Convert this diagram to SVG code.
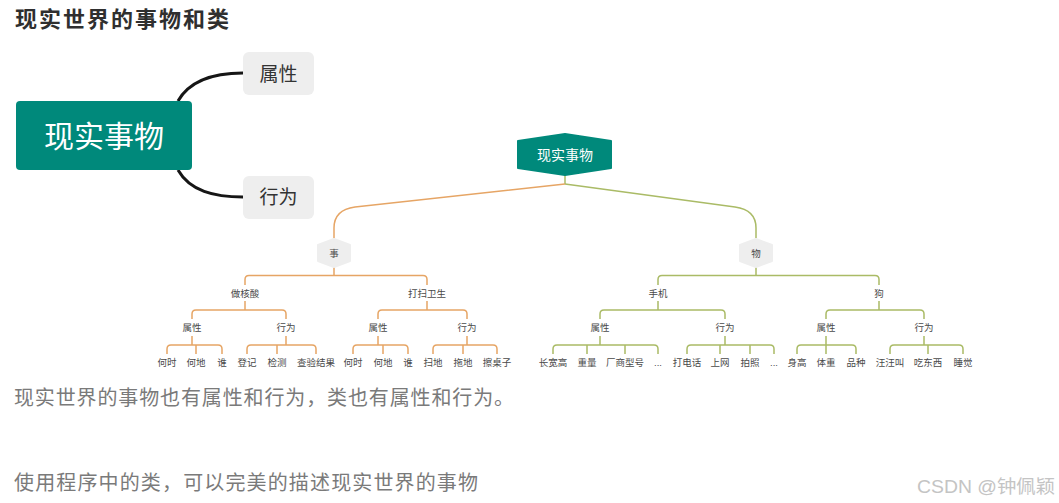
<svg xmlns="http://www.w3.org/2000/svg" width="1059" height="503" viewBox="0 0 1059 503">
<style>
.cjk{font-family:"Liberation Sans","Noto Sans CJK SC",sans-serif}
.serif{font-family:"Liberation Serif","Noto Sans CJK SC",serif}
.title{font-size:22px;font-weight:bold;fill:#2f2f2f}
.body{font-size:20px;fill:#7a7a7a}
.wm{font-size:18px;fill:#c4c4c4}
.sm{font-size:9.5px;fill:#4a4a4a;text-anchor:middle;dominant-baseline:central}
.big{fill:#fff;text-anchor:middle;dominant-baseline:central}
.gray{fill:#eeeeee}
.teal{fill:#00897b}
.or{fill:none;stroke:#e6a565;stroke-width:1.5}
.gr{fill:none;stroke:#aabb66;stroke-width:1.5}
.blk{fill:none;stroke:#161616;stroke-width:3}
</style>
<rect width="1059" height="503" fill="#fff"/>
<text class="serif title" x="15" y="27" textLength="214" lengthAdjust="spacing">现实世界的事物和类</text>

<g id="connectors">
  <path class="blk" d="M178,101 C190,80 214,73 243,73"/>
  <path class="blk" d="M178,170 C190,191 214,197 243,197"/>
  <path class="gr" d="M565,175V184"/>
  <path class="or" d="M565,184 L355,207 C340,209 334,216 334,228 V238"/>
  <path class="gr" d="M565,184 L735,207 C750,209 756,216 756,228 V238"/>
  <path class="or" d="M334,267V275.5 M245,285V279.5Q245,275.5 249,275.5H423Q427,275.5 427,279.5V285"/>
  <path class="gr" d="M756,267V275.5 M658,285V279.5Q658,275.5 662,275.5H875Q879,275.5 879,279.5V285"/>
  <path class="or" d="M245,301V310 M192,319V314Q192,310 196,310H282Q286,310 286,314V319"/>
  <path class="or" d="M427,301V310 M378,319V314Q378,310 382,310H463Q467,310 467,314V319"/>
  <path class="gr" d="M658,301V310 M600,319V314Q600,310 604,310H721Q725,310 725,314V319"/>
  <path class="gr" d="M879,301V310 M826,319V314Q826,310 830,310H920Q924,310 924,314V319"/>
  <path class="or" d="M192,336V345 M167,354V349Q167,345 171,345H218Q222,345 222,349V354 M196,345V354"/>
  <path class="or" d="M286,336V345 M247,354V349Q247,345 251,345H312Q316,345 316,349V354 M277,345V354"/>
  <path class="or" d="M378,336V345 M353,354V349Q353,345 357,345H404Q408,345 408,349V354 M383,345V354"/>
  <path class="or" d="M467,336V345 M433,354V349Q433,345 437,345H493Q497,345 497,349V354 M463,345V354"/>
  <path class="gr" d="M600,336V345 M553,354V349Q553,345 557,345H654Q658,345 658,349V354 M587,345V354 M625,345V354"/>
  <path class="gr" d="M725,336V345 M687,354V349Q687,345 691,345H770Q774,345 774,349V354 M720,345V354 M750,345V354"/>
  <path class="gr" d="M826,336V345 M797,354V349Q797,345 801,345H852Q856,345 856,349V354 M826,345V354"/>
  <path class="gr" d="M924,336V345 M890,354V349Q890,345 894,345H959Q963,345 963,349V354 M928,345V354"/>
</g>

<g id="left-root">
  <rect class="teal" x="16" y="101" width="176" height="69" rx="4"/>
  <text class="cjk big" x="104" y="136" font-size="30">现实事物</text>
</g>
<g id="left-attr">
  <rect class="gray" x="243" y="52" width="71" height="43" rx="6"/>
  <text class="cjk" x="278.5" y="74" font-size="19" fill="#333" text-anchor="middle" dominant-baseline="central">属性</text>
</g>
<g id="left-behav">
  <rect class="gray" x="243" y="176" width="71" height="43" rx="6"/>
  <text class="cjk" x="278.5" y="197.5" font-size="19" fill="#333" text-anchor="middle" dominant-baseline="central">行为</text>
</g>

<g id="root">
  <path class="teal" stroke="#00897b" stroke-width="2" stroke-linejoin="round" d="M565,134 L611,141 V168 L565,175 L518,168 V141 Z"/>
  <text class="cjk big" x="565" y="154.5" font-size="14">现实事物</text>
</g>
<g id="shi">
  <path class="gray" stroke="#eeeeee" stroke-width="2" stroke-linejoin="round" d="M334,239 L350,245 V261 L334,267 L318,261 V245 Z"/>
  <text class="cjk sm" x="334" y="253" font-size="11.5">事</text>
</g>
<g id="wu">
  <path class="gray" stroke="#eeeeee" stroke-width="2" stroke-linejoin="round" d="M756,239 L772,245 V261 L756,267 L740,261 V245 Z"/>
  <text class="cjk sm" x="756" y="253" font-size="11.5">物</text>
</g>

<g id="n-hesuan"><text class="cjk sm" x="245" y="293">做核酸</text></g>
<g id="n-dasao"><text class="cjk sm" x="427" y="293">打扫卫生</text></g>
<g id="n-shouji"><text class="cjk sm" x="658" y="293">手机</text></g>
<g id="n-gou"><text class="cjk sm" x="879" y="293">狗</text></g>

<g id="n-hs-attr"><text class="cjk sm" x="192" y="327.5">属性</text></g>
<g id="n-hs-beh"><text class="cjk sm" x="286" y="327.5">行为</text></g>
<g id="n-ds-attr"><text class="cjk sm" x="378" y="327.5">属性</text></g>
<g id="n-ds-beh"><text class="cjk sm" x="467" y="327.5">行为</text></g>
<g id="n-sj-attr"><text class="cjk sm" x="600" y="327.5">属性</text></g>
<g id="n-sj-beh"><text class="cjk sm" x="725" y="327.5">行为</text></g>
<g id="n-g-attr"><text class="cjk sm" x="826" y="327.5">属性</text></g>
<g id="n-g-beh"><text class="cjk sm" x="924" y="327.5">行为</text></g>

<g id="l1"><text class="cjk sm" x="167" y="362">何时</text></g>
<g id="l2"><text class="cjk sm" x="196" y="362">何地</text></g>
<g id="l3"><text class="cjk sm" x="222" y="362">谁</text></g>
<g id="l4"><text class="cjk sm" x="247" y="362">登记</text></g>
<g id="l5"><text class="cjk sm" x="277" y="362">检测</text></g>
<g id="l6"><text class="cjk sm" x="316" y="362">查验结果</text></g>
<g id="l7"><text class="cjk sm" x="353" y="362">何时</text></g>
<g id="l8"><text class="cjk sm" x="383" y="362">何地</text></g>
<g id="l9"><text class="cjk sm" x="408" y="362">谁</text></g>
<g id="l10"><text class="cjk sm" x="433" y="362">扫地</text></g>
<g id="l11"><text class="cjk sm" x="463" y="362">拖地</text></g>
<g id="l12"><text class="cjk sm" x="497" y="362">擦桌子</text></g>
<g id="l13"><text class="cjk sm" x="553" y="362">长宽高</text></g>
<g id="l14"><text class="cjk sm" x="587" y="362">重量</text></g>
<g id="l15"><text class="cjk sm" x="625" y="362">厂商型号</text></g>
<g id="l16"><text class="cjk sm" x="658" y="362" fill="#999">...</text></g>
<g id="l17"><text class="cjk sm" x="687" y="362">打电话</text></g>
<g id="l18"><text class="cjk sm" x="720" y="362">上网</text></g>
<g id="l19"><text class="cjk sm" x="750" y="362">拍照</text></g>
<g id="l20"><text class="cjk sm" x="774" y="362" fill="#999">...</text></g>
<g id="l21"><text class="cjk sm" x="797" y="362">身高</text></g>
<g id="l22"><text class="cjk sm" x="826" y="362">体重</text></g>
<g id="l23"><text class="cjk sm" x="856" y="362">品种</text></g>
<g id="l24"><text class="cjk sm" x="890" y="362">汪汪叫</text></g>
<g id="l25"><text class="cjk sm" x="928" y="362">吃东西</text></g>
<g id="l26"><text class="cjk sm" x="963" y="362">睡觉</text></g>

<text class="serif body" x="14" y="405" textLength="500" lengthAdjust="spacing">现实世界的事物也有属性和行为，类也有属性和行为。</text>
<text class="serif body" x="14" y="490" textLength="464" lengthAdjust="spacing">使用程序中的类，可以完美的描述现实世界的事物</text>
<text class="cjk wm" x="917" y="493" textLength="138" lengthAdjust="spacingAndGlyphs">CSDN @钟佩颖</text>
</svg>
